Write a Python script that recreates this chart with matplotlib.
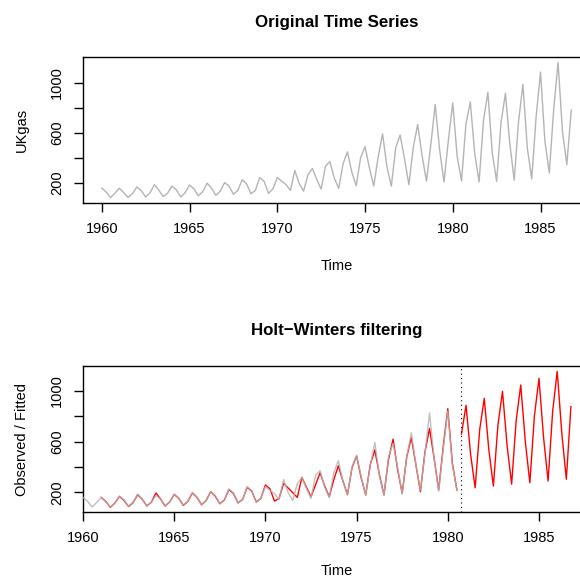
import numpy as np
import matplotlib
matplotlib.use('Agg')
import matplotlib.pyplot as plt

plt.rcParams['font.family'] = ['Liberation Sans', 'DejaVu Sans']

# UKgas, quarterly, 1960 Q1 - 1986 Q4
ukgas = [160.1, 129.7, 84.8, 120.1, 160.1, 124.9, 84.8, 116.9,
         169.7, 140.9, 89.7, 123.3, 187.3, 144.1, 92.9, 120.1,
         176.1, 147.3, 89.7, 123.3, 185.7, 155.3, 99.3, 131.3,
         200.1, 161.7, 102.5, 136.1, 204.9, 176.1, 112.1, 140.9,
         227.3, 195.3, 115.3, 142.5, 244.9, 214.5, 118.5, 153.7,
         244.9, 216.1, 188.9, 142.5, 301.0, 196.9, 136.1, 267.3,
         317.0, 230.5, 152.1, 336.2, 371.4, 240.1, 158.5, 355.4,
         449.9, 286.6, 179.3, 403.4, 491.5, 321.8, 177.7, 409.8,
         593.9, 329.8, 176.1, 483.5, 584.3, 395.4, 187.3, 485.1,
         669.2, 421.0, 216.1, 509.1, 827.7, 467.5, 209.7, 542.7,
         840.5, 414.6, 217.7, 670.8, 848.5, 437.0, 209.7, 701.2,
         925.3, 443.4, 214.5, 683.6, 917.3, 515.5, 224.1, 694.8,
         989.4, 477.1, 233.7, 730.0, 1087.0, 534.7, 281.8, 787.6,
         1163.9, 613.1, 347.4, 782.8]
t_all = 1960 + np.arange(len(ukgas)) / 4

# observed part used for the Holt-Winters fit (1960 Q1 - 1980 Q3)
n_obs = 83
# fitted values, 1961 Q1 - 1980 Q3
fitted = [160, 128, 82, 116, 168, 136, 88, 120,
          182, 145, 93, 122, 195, 148, 92, 124,
          184, 153, 97, 129, 196, 160, 102, 135,
          206, 170, 110, 140, 222, 190, 117, 144,
          240, 210, 124, 152, 258, 228, 131, 152,
          271, 234, 197, 160, 318, 240, 165, 260,
          355, 250, 165, 300, 410, 290, 182, 395,
          488, 315, 180, 420, 535, 340, 180, 460,
          620, 380, 192, 480, 632, 420, 205, 520,
          705, 470, 218, 560, 860, 430, 218]
t_fit = 1961 + np.arange(len(fitted)) / 4
# predictions, 1980 Q4 - 1986 Q4
predicted = [660, 887, 501, 236, 696, 942, 536, 250, 732,
             997, 571, 265, 768, 1047, 601, 276, 804,
             1100, 634, 289, 840, 1155, 669, 303, 876]
t_pred = 1980.75 + np.arange(len(predicted)) / 4

W, H = 580, 579
fig = plt.figure(figsize=(W / 100, H / 100), dpi=100)
GRAY = '#b4b4b4'
FS = 10.5


def style(ax):
    for s in ax.spines.values():
        s.set_linewidth(1)
    ax.tick_params(direction='out', length=6.5, width=1, labelsize=FS, pad=7)
    ax.set_yticks([200, 400, 600, 800, 1000])
    ax.set_yticklabels(['200', '', '600', '', '1000'], rotation=90, va='center')
    ax.set_xticks([1960, 1965, 1970, 1975, 1980, 1985])


# top panel
ax1 = fig.add_axes([83 / W, 1 - 203 / H, (590 - 83) / W, 146 / H])
ax1.plot(t_all, ukgas, color=GRAY, lw=1)
ax1.set_xlim(1958.93, 1987.82)
ax1.set_ylim(41.6, 1207.1)
style(ax1)
fig.text(337 / W, 1 - 22 / H, 'Original Time Series', ha='center', va='center',
         fontsize=12.2, fontweight='bold')
fig.text(22 / W, 1 - 130 / H, 'UKgas', ha='center', va='center', rotation=90, fontsize=FS)
fig.text(337 / W, 1 - 266 / H, 'Time', ha='center', va='center', fontsize=FS)

# bottom panel
ax2 = fig.add_axes([83 / W, 1 - 512 / H, (593.7 - 83) / W, 146 / H])
ax2.plot(t_fit, fitted, color='red', lw=1, zorder=2)
ax2.plot(t_pred, predicted, color='red', lw=1, zorder=2)
ax2.plot(t_all[:n_obs], ukgas[:n_obs], color=GRAY, lw=1, alpha=0.85, zorder=3)
ax2.axvline(1980.75, color='black', lw=0.8, ls=(0, (1, 3)))
ax2.set_xlim(1960, 1988)
ax2.set_ylim(45, 1197)
style(ax2)
fig.text(337 / W, 1 - 330 / H, 'Holt\u2212Winters filtering', ha='center', va='center',
         fontsize=12.2, fontweight='bold')
fig.text(22 / W, 1 - 439 / H, 'Observed / Fitted', ha='center', va='center', rotation=90,
         fontsize=FS)
fig.text(337 / W, 1 - 571 / H, 'Time', ha='center', va='center', fontsize=FS)

fig.savefig('out.png', dpi=100)
